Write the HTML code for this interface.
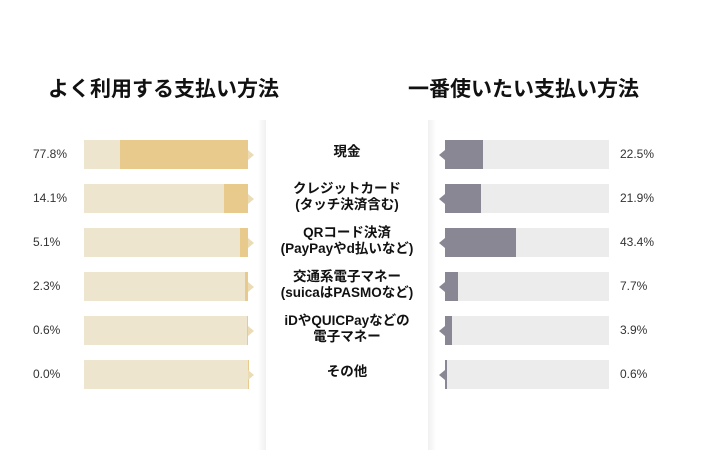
<!DOCTYPE html>
<html><head><meta charset="utf-8"><style>
body{margin:0;width:710px;height:474px;background:#fff;position:relative;overflow:hidden;font-family:"Liberation Sans","Noto Sans CJK JP",sans-serif;}
.t{position:absolute;top:73px;font-size:21px;font-weight:bold;color:#111;white-space:nowrap}
.p{position:absolute;width:164px;height:29px}
.f{position:absolute;top:0;height:29px}
.pct{position:absolute;font-size:12px;color:#333}
.c{position:absolute;left:264px;width:166px;text-align:center;font-size:13.5px;font-weight:bold;color:#111;line-height:16px;white-space:nowrap}
.tri{position:absolute;width:0;height:0;border-top:5px solid transparent;border-bottom:5px solid transparent}
</style></head><body>
<div style="position:absolute;left:258px;top:120px;width:8px;height:330px;background:linear-gradient(90deg,#fff,#f0f0f0)"></div>
<div style="position:absolute;left:428px;top:120px;width:8px;height:330px;background:linear-gradient(90deg,#f0f0f0,#fff)"></div>
<div class="t" style="left:48px">よく利用する支払い方法</div>
<div class="t" style="left:408px">一番使いたい支払い方法</div>

<div id="rows"></div>
<script>
const L=[["77.8%",120],["14.1%",224],["5.1%",240],["2.3%",245],["0.6%",247],["0.0%",247.5]];
const R=[["22.5%",483],["21.9%",481],["43.4%",516],["7.7%",458],["3.9%",452],["0.6%",447]];
const C=[["現金"],["クレジットカード","(タッチ決済含む)"],["QRコード決済","(PayPayやd払いなど)"],["交通系電子マネー","(suicaはPASMOなど)"],["iDやQUICPayなどの","電子マネー"],["その他"]];
let h="";
for(let i=0;i<6;i++){const y=140+44*i;
h+=`<div class="p" style="left:84px;top:${y}px;background:#ede5cd"><div class="f" style="left:${L[i][1]-84}px;right:0;background:#e9ca8d"></div></div>`;
h+=`<div class="tri" style="left:248px;top:${y+10}px;border-left:6px solid #ebdcb5"></div>`;
h+=`<div class="pct" style="left:33px;top:${y+7}px">${L[i][0]}</div>`;
h+=`<div class="p" style="left:445px;top:${y}px;background:#ececec"><div class="f" style="left:0;width:${R[i][1]-445}px;background:#8a8795"></div></div>`;
h+=`<div class="tri" style="left:439px;top:${y+10}px;border-right:6px solid #8a8795"></div>`;
h+=`<div class="pct" style="left:620px;top:${y+7}px">${R[i][0]}</div>`;
const ct=C[i].length==1?y+4:y-3;
h+=`<div class="c" style="top:${ct}px">${C[i].join("<br>")}</div>`;}
document.getElementById("rows").innerHTML=h;
</script>
</body></html>
